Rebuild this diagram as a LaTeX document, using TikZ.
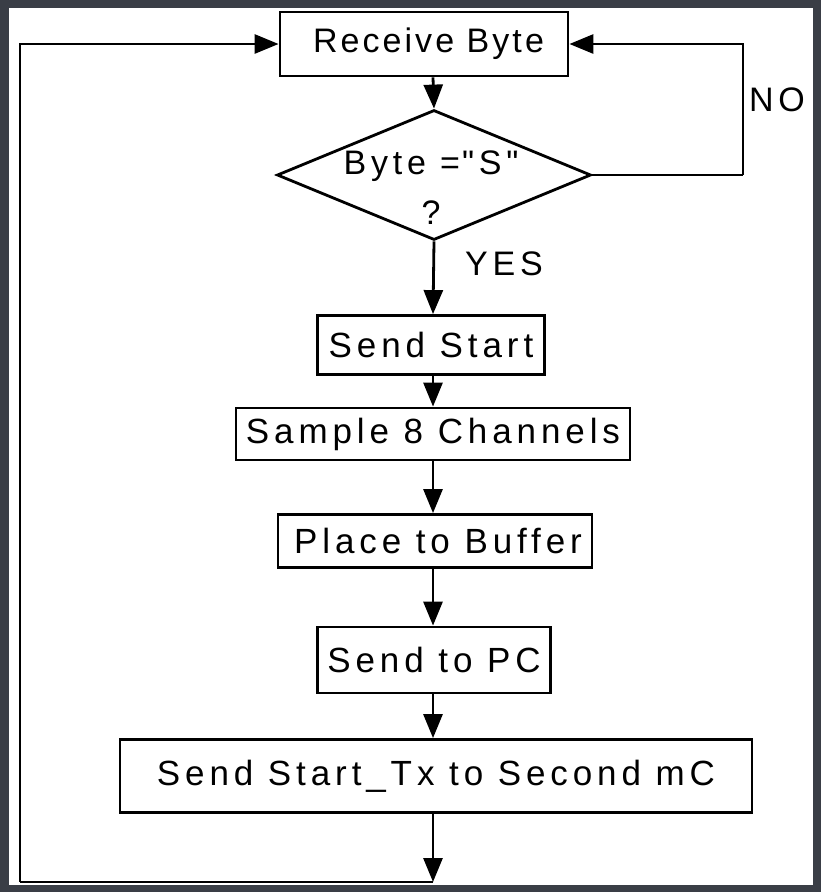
\documentclass[tikz,border=0pt]{standalone}
\usepackage{fontspec}
\newfontfamily\lsfont{Liberation Sans}[LetterSpace=14]
\newfontfamily\lsfontb{Liberation Sans}[LetterSpace=9]
\usetikzlibrary{arrows.meta,shapes.geometric}
\definecolor{frame}{RGB}{58,62,70}
\tikzset{
  box/.style={draw, line width=2.8pt, inner sep=0pt, font=\lsfont\fontsize{35}{40}\selectfont},
  arr/.style={line width=2.8pt, -{Triangle[length=24pt,width=19pt]}},
  ln/.style={line width=2.8pt},
  lbl/.style={font=\lsfont\fontsize{34}{40}\selectfont, inner sep=0pt}
}
\begin{document}
\begin{tikzpicture}[x=1pt,y=-1pt]
\fill[frame] (0,0) rectangle (821,892);
\fill[white] (9,8) rectangle (813,885);
\useasboundingbox (0,0) rectangle (821,892);
\coordinate (spine) at (433,0);
\node[box, minimum width=288pt, minimum height=64pt, font=\lsfontb\fontsize{34}{40}\selectfont] (rb) at (424,44) {\hspace{9pt}Receive Byte};
\node[draw, diamond, line width=2.8pt, minimum width=314pt, minimum height=130pt, inner sep=0pt] (d) at (434,175) {};
\node[lbl, align=center] (dt) at (431,188) {Byte =\hspace{2pt}"S"\\[10pt]?};
\node[box, minimum width=227pt, minimum height=59pt] (ss) at (431,345) {Send Start};
\node[box, minimum width=394pt, minimum height=52pt] (s8) at (433,434) {Sample 8 Channels};
\node[box, minimum width=314pt, minimum height=53pt] (pb) at (435,541) {\hspace{6pt}Place to Buffer};
\node[box, minimum width=233pt, minimum height=66pt] (pc) at (434,660) {Send to PC};
\node[box, minimum width=632pt, minimum height=73pt] (tx) at (436,776) {Send Start\_Tx to Second mC};
\node[lbl] (no) at (777,100) {NO};
\node[lbl, anchor=west] (yes) at (465,264) {YES};
\coordinate (bot) at (433,882);
\coordinate (bl) at (20,882);
\coordinate (nr) at (743,175);
\draw[arr] (rb.south -| spine) -- (d.north);
\draw[ln] (d.east) -- (nr);
\draw[arr] (nr) |- (rb.east);
\draw[arr] (d.south) -- (ss.north -| spine);
\draw[arr] (ss.south -| spine) -- (s8.north -| spine);
\draw[arr] (s8.south -| spine) -- (pb.north -| spine);
\draw[arr] (pb.south -| spine) -- (pc.north -| spine);
\draw[arr] (pc.south -| spine) -- (tx.north -| spine);
\draw[arr] (tx.south -| spine) -- (bot);
\draw[ln] (bot) -- (bl);
\draw[arr] (bl) |- (rb.west);
\end{tikzpicture}
\end{document}
